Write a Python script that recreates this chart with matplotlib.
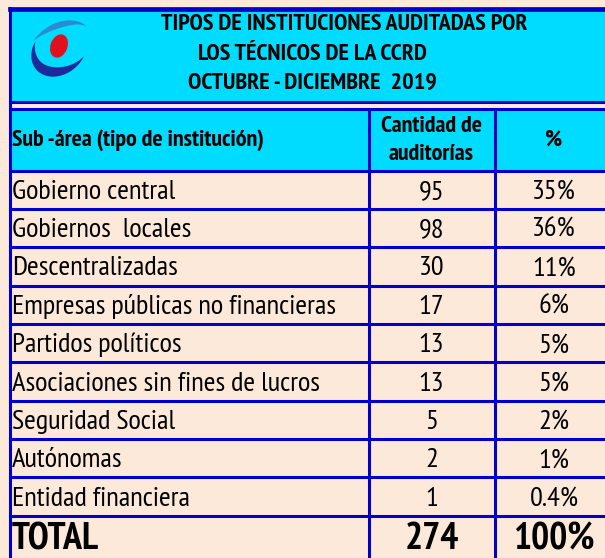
import numpy as np
import matplotlib.pyplot as plt
from matplotlib import font_manager
from matplotlib.patches import Rectangle, Ellipse, Polygon

# table content
title_lines = ["TIPOS DE INSTITUCIONES AUDITADAS POR",
               "LOS TÉCNICOS DE LA CCRD",
               "OCTUBRE - DICIEMBRE  2019"]
col_headers = ["Sub -área (tipo de institución)", "Cantidad de\nauditorías", "%"]
categories = ["Gobierno central", "Gobiernos  locales", "Descentralizadas",
              "Empresas públicas no financieras", "Partidos políticos",
              "Asociaciones sin fines de lucros", "Seguridad Social",
              "Autónomas", "Entidad financiera"]
counts = [95, 98, 30, 17, 13, 13, 5, 2, 1]
percents = ["35%", "36%", "11%", "6%", "5%", "5%", "2%", "1%", "0.4%"]
total_label = "TOTAL"
total_count = 274
total_pct = "100%"

PEACH = "#fde9d9"
CYAN = "#00dcff"
BLUE = "#0000cc"

# pick a narrow font with a real bold face
cands = ["Arial Narrow", "Liberation Sans Narrow", "PT Sans Narrow", "Roboto Condensed",
         "Archivo Narrow", "Pragati Narrow", "Encode Sans Condensed", "Barlow Semi Condensed"]
weights = {}
for f in font_manager.fontManager.ttflist:
    weights.setdefault(f.name, set()).add(f.weight)


def has_bold(name):
    ws = [w for w in weights.get(name, ()) if isinstance(w, (int, float))]
    return 400 in ws and any(w >= 700 for w in ws)


font = next((c for c in cands if has_bold(c)), None)
if font is None:
    font = "DejaVu Sans"
    plt.rcParams["font.stretch"] = "condensed"
plt.rcParams["font.family"] = [font, "DejaVu Sans"]

fig = plt.figure(figsize=(6.05, 5.58), dpi=100, facecolor=PEACH)
ax = fig.add_axes([0, 0, 1, 1])
ax.set_xlim(0, 605)
ax.set_ylim(558, 0)
ax.axis("off")
renderer = fig.canvas.get_renderer()


def fit_size(s, target_px, weight="normal", base=20):
    t = ax.text(0, 0, s, fontsize=base, fontweight=weight)
    w = t.get_window_extent(renderer).width
    t.remove()
    return base * target_px / w


body_fs = fit_size(categories[0], 163)
head_fs = fit_size(col_headers[0], 253, "bold")
title_fs = fit_size(title_lines[0], 364, "bold")
total_fs = body_fs * 1.33

# geometry (pixels)
x_left, x_c1, x_c2, x_right = 9.5, 368.5, 494.5, 640
title_top, title_bot = 8.5, 102
head_top, head_bot = 108.5, 170.5
row_h = 38.37
row_lines = [head_bot + row_h * k for k in range(len(categories) + 1)]
total_bot = 570
x_num = (x_c1 + x_c2) / 2
x_pct = 554

# cyan bands
ax.add_patch(Rectangle((x_left, title_top), x_right - x_left, title_bot - title_top,
                       facecolor=CYAN, edgecolor="none"))
ax.add_patch(Rectangle((x_left, head_top), x_right - x_left, head_bot - head_top,
                       facecolor=CYAN, edgecolor="none"))

lw = 2.2
ax.plot([x_left, x_right], [title_top, title_top], color=BLUE, lw=3.4)
for y in [title_bot, head_top] + row_lines:
    ax.plot([x_left, x_right], [y, y], color=BLUE, lw=lw)
ax.plot([x_left, x_left], [title_top - 1, total_bot], color=BLUE, lw=lw)
for x in (x_c1, x_c2):
    ax.plot([x, x], [head_top, total_bot], color=BLUE, lw=lw)


# logo: two swooshes round a red ellipse
def crescent(cx, cy, rx, ry, t0, t1, thick, rot):
    t = np.radians(np.linspace(t0, t1, 80))
    w = thick * np.sin(np.pi * (t - t[0]) / (t[-1] - t[0]))
    ox, oy = rx * np.cos(t), ry * np.sin(t)
    ix, iy = (rx - w) * np.cos(t), (ry - w) * np.sin(t)
    xs = np.concatenate([ox, ix[::-1]])
    ys = np.concatenate([oy, iy[::-1]])
    r = np.radians(rot)
    px = cx + xs * np.cos(r) - ys * np.sin(r)
    py = cy + xs * np.sin(r) + ys * np.cos(r)
    return np.column_stack([px, py])


ax.add_patch(Polygon(crescent(59, 50, 30, 24, 60, 245, 10, -40), closed=True,
                     facecolor="#1c2a9c", edgecolor="none"))
ax.add_patch(Polygon(crescent(60, 49, 35, 25, 240, 352, 6, -35), closed=True,
                     facecolor="#2a8cd0", edgecolor="none"))
ax.add_patch(Ellipse((59, 46), 17, 24, angle=20, facecolor="#e0101c", edgecolor="none"))

# title
title_x = [344, 312, 312]
title_y = [24, 54, 83]
for s, x, y in zip(title_lines, title_x, title_y):
    ax.text(x, y, s, ha="center", va="center", fontsize=title_fs, fontweight="bold")

# column headers
hy = (head_bot + head_top) / 2 + 1
ax.text(12, hy, col_headers[0], ha="left", va="center", fontsize=head_fs, fontweight="bold")
ax.text(x_num, hy, col_headers[1], ha="center", va="center",
        fontsize=head_fs, fontweight="bold", linespacing=1.4)
ax.text(x_pct, hy, col_headers[2], ha="center", va="center", fontsize=head_fs, fontweight="bold")

# body rows
for i, (cat, n, p) in enumerate(zip(categories, counts, percents)):
    y = row_lines[i] + row_h / 2 + 2
    ax.text(12, y, cat, ha="left", va="center", fontsize=body_fs)
    ax.text(x_num, y, str(n), ha="center", va="center", fontsize=body_fs)
    ax.text(x_pct, y, p, ha="center", va="center", fontsize=body_fs)

ty = row_lines[-1] + 24
ax.text(12, ty, total_label, ha="left", va="center", fontsize=total_fs, fontweight="bold")
ax.text(x_num, ty, str(total_count), ha="center", va="center",
        fontsize=total_fs, fontweight="bold")
ax.text(x_pct, ty, total_pct, ha="center", va="center", fontsize=total_fs, fontweight="bold")

fig.savefig("out.png", dpi=100, facecolor=PEACH)
